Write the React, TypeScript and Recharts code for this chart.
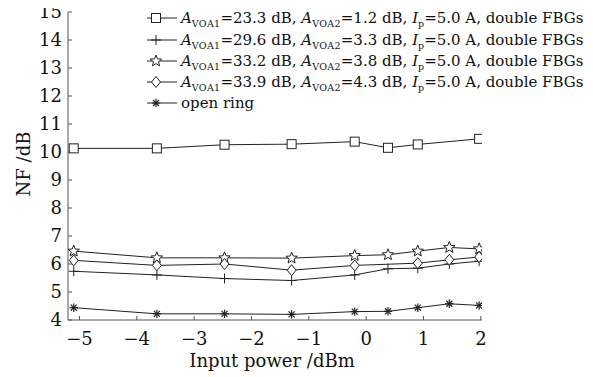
import React from 'react';
import { LineChart, Line, XAxis, YAxis, Legend } from 'recharts';

// ---- data ----
const xTicks = [-5, -4, -3, -2, -1, 0, 1, 2];
const yTicks = [4, 5, 6, 7, 8, 9, 10, 11, 12, 13, 14, 15];

const powerSquare = [-5.1, -3.65, -2.47, -1.3, -0.2, 0.38, 0.9, 1.97];
const nfSquare = [10.13, 10.13, 10.26, 10.28, 10.37, 10.15, 10.27, 10.47];

const powerPlus = [-5.1, -3.65, -2.47, -1.3, -0.2, 0.38, 0.9, 1.45, 1.97];
const nfPlus = [5.74, 5.61, 5.48, 5.41, 5.61, 5.83, 5.85, 6.0, 6.1];

const powerStar = [-5.1, -3.65, -2.47, -1.3, -0.2, 0.38, 0.9, 1.45, 1.97];
const nfStar = [6.46, 6.22, 6.22, 6.21, 6.3, 6.33, 6.46, 6.59, 6.54];

const powerDiamond = [-5.1, -3.65, -2.47, -1.3, -0.2, 0.9, 1.45, 1.97];
const nfDiamond = [6.13, 5.95, 6.0, 5.78, 5.95, 6.03, 6.15, 6.25];

const powerRing = [-5.1, -3.65, -2.47, -1.3, -0.2, 0.38, 0.9, 1.45, 1.97];
const nfRing = [4.44, 4.22, 4.22, 4.2, 4.3, 4.31, 4.44, 4.58, 4.52];

const legendRows = [
  { kind: 'square', a1: '23.3', a2: '1.2' },
  { kind: 'plus', a1: '29.6', a2: '3.3' },
  { kind: 'star', a1: '33.2', a2: '3.8' },
  { kind: 'diamond', a1: '33.9', a2: '4.3' },
  { kind: 'ring', label: 'open ring' },
];

const zip = (xs: number[], ys: number[]) => xs.map((x, i) => ({ x, y: ys[i] }));

const FONT = '"DejaVu Serif", serif';
const INK = '#222';

function Marker({ kind, cx, cy }: { kind: string; cx: number; cy: number }) {
  const sw = 1;
  if (kind === 'square') {
    return <rect x={cx - 4.5} y={cy - 4.5} width={9} height={9} fill="#fff" stroke={INK} strokeWidth={sw} />;
  }
  if (kind === 'plus') {
    return (
      <g stroke={INK} strokeWidth={sw}>
        <line x1={cx - 5} y1={cy} x2={cx + 5} y2={cy} />
        <line x1={cx} y1={cy - 5} x2={cx} y2={cy + 5} />
      </g>
    );
  }
  if (kind === 'diamond') {
    return (
      <polygon
        points={`${cx},${cy - 5.5} ${cx + 4.5},${cy} ${cx},${cy + 5.5} ${cx - 4.5},${cy}`}
        fill="#fff"
        stroke={INK}
        strokeWidth={sw}
      />
    );
  }
  if (kind === 'star') {
    const pts: string[] = [];
    for (let i = 0; i < 10; i++) {
      const r = i % 2 === 0 ? 6 : 2.6;
      const a = -Math.PI / 2 + (i * Math.PI) / 5;
      pts.push(`${cx + r * Math.cos(a)},${cy + r * Math.sin(a)}`);
    }
    return <polygon points={pts.join(' ')} fill="#fff" stroke={INK} strokeWidth={sw} />;
  }
  // asterisk
  const r = 4.2;
  const d = r * 0.72;
  return (
    <g stroke={INK} strokeWidth={1.2}>
      <line x1={cx - r} y1={cy} x2={cx + r} y2={cy} />
      <line x1={cx} y1={cy - r} x2={cx} y2={cy + r} />
      <line x1={cx - d} y1={cy - d} x2={cx + d} y2={cy + d} />
      <line x1={cx - d} y1={cy + d} x2={cx + d} y2={cy - d} />
    </g>
  );
}

const makeDot = (kind: string) => (props: any) => {
  const { cx, cy, index } = props;
  if (cx == null || cy == null) return <g key={`${kind}-${index}`} />;
  return (
    <g key={`${kind}-${index}`}>
      <Marker kind={kind} cx={cx} cy={cy} />
    </g>
  );
};

function renderLegend() {
  const rowY = [18, 40, 61, 82, 103];
  const lineX1 = 147;
  const lineX2 = 177;
  const textX = 181;
  return (
    <svg width={593} height={120} style={{ display: 'block', pointerEvents: 'none' }}>
      {legendRows.map((row, i) => {
        const y = rowY[i];
        const baseline = y + 5;
        return (
          <g key={i}>
            <line x1={lineX1} y1={y} x2={lineX2} y2={y} stroke={INK} strokeWidth={1} />
            <Marker kind={row.kind} cx={(lineX1 + lineX2) / 2 - 6} cy={y} />
            {row.label ? (
              <text x={textX} y={baseline} fontFamily={FONT} fontSize={15} fill="#111">
                {row.label}
              </text>
            ) : (
              <text x={textX} y={baseline} fontFamily={FONT} fontSize={15} fill="#111">
                <tspan fontStyle="italic">A</tspan>
                <tspan fontSize={9.5} dy={4} letterSpacing={0.3}>VOA1</tspan>
                <tspan dy={-4}>{`=${row.a1} dB, `}</tspan>
                <tspan fontStyle="italic">A</tspan>
                <tspan fontSize={9.5} dy={4} letterSpacing={0.3}>VOA2</tspan>
                <tspan dy={-4}>{`=${row.a2} dB, `}</tspan>
                <tspan fontStyle="italic">I</tspan>
                <tspan fontSize={9.5} dy={4}>p</tspan>
                <tspan dy={-4}>=5.0 A, double FBGs</tspan>
              </text>
            )}
          </g>
        );
      })}
    </svg>
  );
}

const fmtMinus = (v: number) => (v < 0 ? `\u2212${Math.abs(v)}` : `${v}`);

export default function App() {
  const series = [
    { kind: 'square', data: zip(powerSquare, nfSquare) },
    { kind: 'plus', data: zip(powerPlus, nfPlus) },
    { kind: 'star', data: zip(powerStar, nfStar) },
    { kind: 'diamond', data: zip(powerDiamond, nfDiamond) },
    { kind: 'ring', data: zip(powerRing, nfRing) },
  ];
  const tickStyle = { fontFamily: FONT, fontSize: 18, fill: '#111' };
  return (
    <div style={{ width: 593, height: 377, margin: '-8px 0 0 -8px' }}>
      <LineChart width={593} height={377} margin={{ top: 12, right: 111, bottom: 0, left: 0 }}>
        <XAxis
          type="number"
          dataKey="x"
          domain={[-5.2, 2.02]}
          ticks={xTicks}
          interval={0}
          allowDataOverflow
          height={57}
          tickSize={-4}
          tickMargin={16}
          tick={tickStyle}
          tickFormatter={fmtMinus}
          stroke="#555"
          tickLine={{ stroke: '#555' }}
          label={(p: any) => {
            const vb = p.viewBox || {};
            return (
              <text
                x={vb.x + vb.width / 2 - 3}
                y={vb.y + 47}
                textAnchor="middle"
                fontFamily={FONT}
                fontSize={18}
                fill="#111"
              >
                Input power /dBm
              </text>
            );
          }}
        />
        <YAxis
          type="number"
          dataKey="y"
          domain={[4, 15]}
          ticks={yTicks}
          interval={0}
          allowDataOverflow
          width={68}
          tickSize={-4}
          tickMargin={10}
          tick={tickStyle}
          stroke="#555"
          tickLine={{ stroke: '#555' }}
          label={(p: any) => {
            const vb = p.viewBox || {};
            const cx = vb.x + 23.5;
            const cy = vb.y + vb.height / 2 - 2;
            return (
              <text
                x={cx}
                y={cy}
                transform={`rotate(-90, ${cx}, ${cy})`}
                textAnchor="middle"
                dominantBaseline="central"
                fontFamily={FONT}
                fontSize={18}
                fill="#111"
              >
                NF /dB
              </text>
            );
          }}
        />
        <Legend
          layout="vertical"
          align="center"
          verticalAlign="middle"
          content={renderLegend}
          wrapperStyle={{ left: 0, top: 0, width: 593, height: 120 }}
        />
        {series.map((s) => (
          <Line
            key={s.kind}
            data={s.data}
            dataKey="y"
            type="linear"
            stroke={INK}
            strokeWidth={1}
            dot={makeDot(s.kind)}
            activeDot={false}
            isAnimationActive={false}
            legendType="none"
          />
        ))}
      </LineChart>
    </div>
  );
}
